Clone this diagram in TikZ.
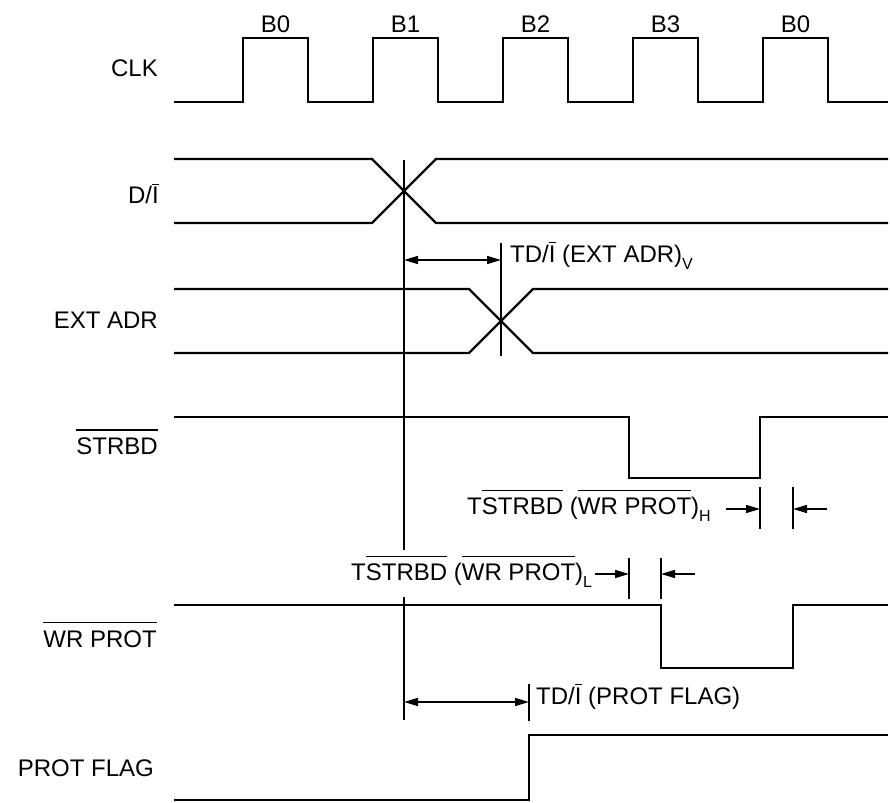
\documentclass[tikz,border=0pt]{standalone}
\usepackage{fontspec}
\setmainfont{Liberation Sans}
\usetikzlibrary{arrows.meta}
\newcommand\ovl[2][6pt]{\leavevmode\vbox{\hrule height 1.5pt\kern#1\hbox{#2}}}
\newcommand\subs[1]{\raisebox{-7pt}{\fontsize{16}{16}\selectfont #1}}
\begin{document}
\begin{tikzpicture}[x=1pt,y=-1pt,
  sig/.style={line width=2.4pt, line join=miter},
  markline/.style={line width=1.4pt},
  tip/.tip={Triangle[length=14pt,width=8pt]},
  dimarrow/.style={line width=1.5pt, -tip},
  dimboth/.style={line width=1.5pt, tip-tip},
  lbl/.style={font=\fontsize{24}{28}\selectfont, inner sep=0pt}]
\useasboundingbox (0,0) rectangle (890,802);

% ---------- signal labels ----------
\node[lbl, anchor=base east] (lclk) at (158,76.5) {CLK};
\node[lbl, anchor=base east] (ldi)  at (159,204) {D/\ovl[2pt]{I}};
\node[lbl, anchor=base east] (lext) at (158,328) {EXT ADR};
\node[lbl, anchor=base east] (lstr) at (158,454.5) {\ovl[7pt]{STRBD}};
\node[lbl, anchor=base east] (lwr)  at (157,647) {\ovl[7pt]{WR PROT}};
\node[lbl, anchor=base east] (lpf)  at (154,776.5) {PROT FLAG};

% ---------- CLK ----------
\draw[sig] (174,102) -- (243,102) -- (243,38) -- (308,38) -- (308,102)
  -- (373,102) -- (373,38) -- (438,38) -- (438,102)
  -- (503,102) -- (503,38) -- (568,38) -- (568,102)
  -- (633,102) -- (633,38) -- (698,38) -- (698,102)
  -- (763,102) -- (763,38) -- (828,38) -- (828,102) -- (888,102);
\node[lbl, anchor=base] (b0) at (275.5,33) {B0};
\node[lbl, anchor=base] (b1) at (405.5,33) {B1};
\node[lbl, anchor=base] (b2) at (535.5,33) {B2};
\node[lbl, anchor=base] (b3) at (665.5,33) {B3};
\node[lbl, anchor=base] (b4) at (795.5,33) {B0};

% ---------- D/I ----------
\draw[sig] (174,159) -- (372,159) -- (436,223) -- (888,223);
\draw[sig] (174,223) -- (372,223) -- (436,159) -- (888,159);

% ---------- EXT ADR ----------
\draw[sig] (174,289) -- (469,289) -- (533,353) -- (888,353);
\draw[sig] (174,353) -- (469,353) -- (533,289) -- (888,289);

% ---------- STRBD ----------
\draw[sig] (174,417) -- (629,417) -- (629,478) -- (760,478) -- (760,417) -- (888,417);

% ---------- WR PROT ----------
\draw[sig] (174,605) -- (661,605) -- (661,668) -- (793,668) -- (793,605) -- (888,605);

% ---------- PROT FLAG ----------
\draw[sig] (174,800) -- (529,800) -- (529,735) -- (888,735);

% ---------- reference lines ----------
\coordinate (r1t) at (404,160);
\coordinate (r1m) at (404,550);
\coordinate (r1n) at (404,597);
\coordinate (r1b) at (404,720);
\draw[markline] (r1t) -- (r1m);
\draw[markline] (r1n) -- (r1b);
\coordinate (r2t) at (501,243);
\coordinate (r2b) at (501,356);
\draw[markline] (r2t) -- (r2b);

% TD/I (EXT ADR)v
\coordinate (a1l) at (404,260);
\coordinate (a1r) at (501,260);
\draw[dimboth] (a1l) -- (a1r);
\node[lbl, anchor=base west] (t1) at (510,262) {TD/\ovl[2pt]{I} (EXT ADR)\subs{V}};

% TSTRBD (WR PROT)H
\coordinate (h1t) at (760,487); \coordinate (h1b) at (760,529);
\coordinate (h2t) at (793,487); \coordinate (h2b) at (793,529);
\draw[markline] (h1t) -- (h1b);
\draw[markline] (h2t) -- (h2b);
\coordinate (h1s) at (726,509); \coordinate (h1e) at (760,509);
\coordinate (h2s) at (827,509); \coordinate (h2e) at (793,509);
\draw[dimarrow] (h1s) -- (h1e);
\draw[dimarrow] (h2s) -- (h2e);
\node[lbl, anchor=base west] (t2) at (467,514) {T\ovl{STRBD} (\ovl{WR PROT})\subs{H}};

% TSTRBD (WR PROT)L
\coordinate (l1t) at (629,558); \coordinate (l1b) at (629,599);
\coordinate (l2t) at (661,558); \coordinate (l2b) at (661,599);
\draw[markline] (l1t) -- (l1b);
\draw[markline] (l2t) -- (l2b);
\coordinate (l1s) at (595,574); \coordinate (l1e) at (629,574);
\coordinate (l2s) at (695,574); \coordinate (l2e) at (661,574);
\draw[dimarrow] (l1s) -- (l1e);
\draw[dimarrow] (l2s) -- (l2e);
\node[lbl, anchor=base west] (t3) at (351,580) {T\ovl{STRBD} (\ovl{WR PROT})\subs{L}};

% TD/I (PROT FLAG)
\coordinate (p1t) at (529,684); \coordinate (p1b) at (529,721);
\draw[markline] (p1t) -- (p1b);
\coordinate (a2l) at (404,702);
\coordinate (a2r) at (529,702);
\draw[dimboth] (a2l) -- (a2r);
\node[lbl, anchor=base west] (t4) at (536,704) {TD/\ovl[2pt]{I} (PROT FLAG)};
\end{tikzpicture}
\end{document}
